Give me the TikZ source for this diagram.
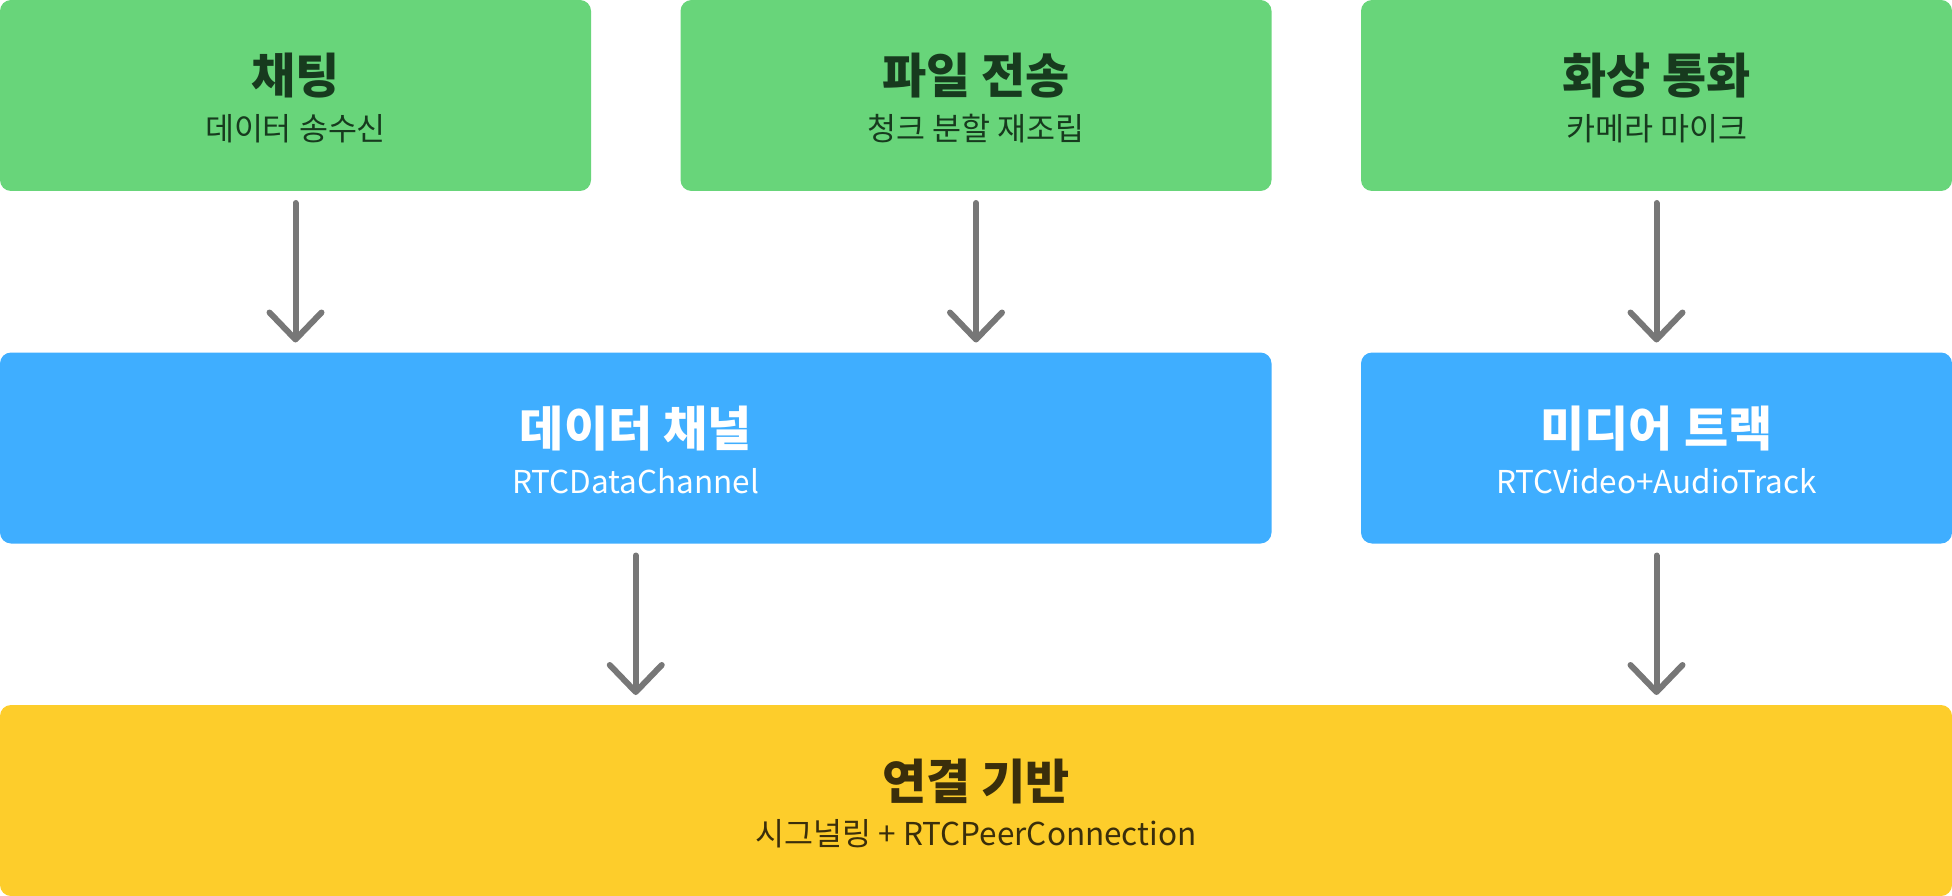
\documentclass[tikz,border=0pt]{standalone}
\usepackage{fontspec}
\setmainfont{Noto Sans CJK KR}
\usetikzlibrary{arrows.meta,calc}
\definecolor{gbox}{HTML}{68D57A}
\definecolor{bbox}{HTML}{3FAEFF}
\definecolor{ybox}{HTML}{FDCD2B}
\definecolor{gtext}{HTML}{173A1E}
\definecolor{ytext}{HTML}{3A2E0B}
\definecolor{arrowgray}{HTML}{777777}
\begin{document}
\begin{tikzpicture}[x=1pt,y=1pt,
  box/.style={rounded corners=11pt, minimum height=191pt, inner sep=0pt, outer sep=0pt, anchor=north west, draw=none},
  gbx/.style={box, fill=gbox, minimum width=591pt},
  bbx/.style={box, fill=bbox},
  ybx/.style={box, fill=ybox, minimum width=1952pt},
  ttl/.style={anchor=base, inner sep=0pt, font=\fontsize{48}{54}\selectfont\bfseries},
  sub/.style={anchor=base, inner sep=0pt, font=\fontsize{31.5}{36}\selectfont},
  conn/.style={draw=arrowgray, line width=6pt, line cap=round,
    -{Straight Barb[length=27pt, width=52pt, line cap=round, line join=round]},
    shorten <=12pt, shorten >=10pt}
]
\useasboundingbox (0,0) rectangle (1952,-896);
% top row
\node[gbx] (t1) at (0,0) {};
\node[gbx] (t2) at (680.5,0) {};
\node[gbx] (t3) at (1361,0) {};
% middle row
\node[bbx, minimum width=1271.5pt] (d1) at (0,-352.5) {};
\node[bbx, minimum width=591pt] (d2) at (1361,-352.5) {};
% bottom
\node[ybx] (y) at (0,-705) {};
% texts
\node[ttl, text=gtext] (t1a) at ($(t1.center)+(0,1.5)$) {채팅};
\node[sub, text=gtext] (t1b) at ($(t1.center)+(0,-45.3)$) {데이터 송수신};
\node[ttl, text=gtext] (t2a) at ($(t2.center)+(0,1.5)$) {파일 전송};
\node[sub, text=gtext] (t2b) at ($(t2.center)+(0,-45.3)$) {청크 분할 재조립};
\node[ttl, text=gtext] (t3a) at ($(t3.center)+(0,1.5)$) {화상 통화};
\node[sub, text=gtext] (t3b) at ($(t3.center)+(0,-45.3)$) {카메라 마이크};
\node[ttl, text=white] (d1a) at ($(d1.center)+(0,1.5)$) {데이터 채널};
\node[sub, text=white] (d1b) at ($(d1.center)+(0,-45.3)$) {RTCDataChannel};
\node[ttl, text=white] (d2a) at ($(d2.center)+(0,1.5)$) {미디어 트랙};
\node[sub, text=white] (d2b) at ($(d2.center)+(0,-45.3)$) {RTCVideo+AudioTrack};
\node[ttl, text=ytext] (ya) at ($(y.center)+(0,1.5)$) {연결 기반};
\node[sub, text=ytext] (yb) at ($(y.center)+(0,-45.3)$) {시그널링 + RTCPeerConnection};
% connectors
\draw[conn] (t1.south) -- (t1.south |- d1.north);
\draw[conn] (t2.south) -- (t2.south |- d1.north);
\draw[conn] (t3.south) -- (d2.north);
\draw[conn] (d1.south) -- (d1.south |- y.north);
\draw[conn] (d2.south) -- (y.north -| d2.south);
\end{tikzpicture}
\end{document}
